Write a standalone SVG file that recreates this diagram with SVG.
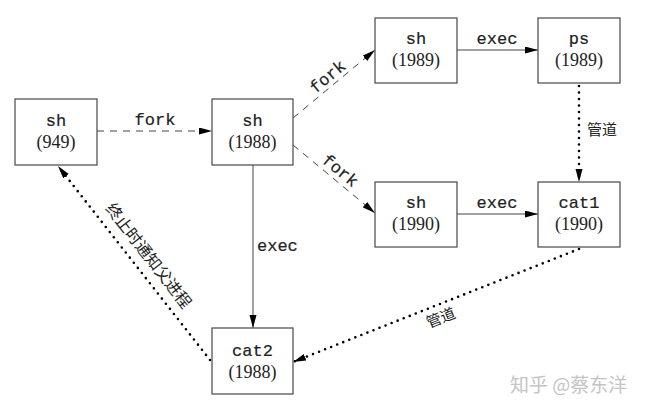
<svg xmlns="http://www.w3.org/2000/svg" width="649" height="413" viewBox="0 0 649 413">
<defs>
<marker id="ah" markerUnits="userSpaceOnUse" markerWidth="14" markerHeight="8" refX="13" refY="3.5" orient="auto">
<path d="M0,0 L13,3.5 L0,7 z" fill="#000"/>
</marker>
<style>
.box{fill:#fff;stroke:#555;stroke-width:1.3}
.mono{font-family:"Liberation Mono","DejaVu Sans Mono",monospace;font-size:17px;fill:#222;stroke:#222;stroke-width:0.2}
.yr{font-family:"Liberation Serif","DejaVu Serif",serif;font-size:18px;fill:#222}
.cjk{font-family:"Noto Sans CJK SC","Noto Sans",sans-serif;font-size:15px;fill:#222}
.dash{fill:none;stroke:#444;stroke-width:1;stroke-dasharray:7 6}
.solid{fill:none;stroke:#444;stroke-width:1}
.dot{fill:none;stroke:#000;stroke-width:2.6;stroke-linecap:round;stroke-dasharray:0 6.5}
</style>
</defs>
<rect width="649" height="413" fill="#fff"/>
<g id="connectors">
<line class="dash" x1="97" y1="131" x2="212" y2="131" marker-end="url(#ah)"/>
<line class="dash" x1="293" y1="118" x2="375" y2="50" marker-end="url(#ah)"/>
<line class="dash" x1="293" y1="145" x2="375" y2="213" marker-end="url(#ah)"/>
<line class="solid" x1="457" y1="50" x2="538" y2="50" marker-end="url(#ah)"/>
<line class="solid" x1="457" y1="214" x2="538" y2="214" marker-end="url(#ah)"/>
<line class="solid" x1="253" y1="165" x2="253" y2="328" marker-end="url(#ah)"/>
<line class="dot" x1="579" y1="86" x2="579" y2="182" marker-end="url(#ah)"/>
<line class="dot" x1="579" y1="249" x2="293" y2="362" marker-end="url(#ah)"/>
<line class="dot" x1="210" y1="360" x2="58" y2="166" marker-end="url(#ah)"/>
<text class="mono" x="155" y="125" text-anchor="middle">fork</text>
<text class="mono" transform="translate(328,77) rotate(-39.7)" y="5" text-anchor="middle">fork</text>
<text class="mono" transform="translate(340,171) rotate(39.7)" y="5" text-anchor="middle">fork</text>
<text class="mono" x="497" y="44" text-anchor="middle">exec</text>
<text class="mono" x="497" y="208" text-anchor="middle">exec</text>
<text class="mono" x="257" y="251">exec</text>
<text class="cjk" x="587" y="135">管道</text>
<text class="cjk" transform="translate(441,318) rotate(-21.9)" y="5" text-anchor="middle">管道</text>
<text class="cjk" transform="translate(148,256) rotate(52)" y="5" text-anchor="middle" style="font-size:16px">终止时通知父进程</text>
</g>
<g id="sh949">
<rect class="box" x="15" y="99" width="82" height="66"/>
<text class="mono" x="56" y="126" text-anchor="middle">sh</text>
<text class="yr" x="56" y="148" text-anchor="middle">(949)</text>
</g>
<g id="sh1988">
<rect class="box" x="212" y="99" width="81" height="66"/>
<text class="mono" x="252.5" y="126" text-anchor="middle">sh</text>
<text class="yr" x="252.5" y="148" text-anchor="middle">(1988)</text>
</g>
<g id="sh1989">
<rect class="box" x="375" y="18" width="82" height="65"/>
<text class="mono" x="416" y="44" text-anchor="middle">sh</text>
<text class="yr" x="416" y="66" text-anchor="middle">(1989)</text>
</g>
<g id="ps1989">
<rect class="box" x="538" y="18" width="82" height="65"/>
<text class="mono" x="579" y="44" text-anchor="middle">ps</text>
<text class="yr" x="579" y="66" text-anchor="middle">(1989)</text>
</g>
<g id="sh1990">
<rect class="box" x="375" y="182" width="82" height="65"/>
<text class="mono" x="416" y="208" text-anchor="middle">sh</text>
<text class="yr" x="416" y="230" text-anchor="middle">(1990)</text>
</g>
<g id="cat1990">
<rect class="box" x="538" y="182" width="82" height="65"/>
<text class="mono" x="579" y="208" text-anchor="middle">cat1</text>
<text class="yr" x="579" y="230" text-anchor="middle">(1990)</text>
</g>
<g id="cat2">
<rect class="box" x="212" y="328" width="81" height="66"/>
<text class="mono" x="252.5" y="356" text-anchor="middle">cat2</text>
<text class="yr" x="252.5" y="378" text-anchor="middle">(1988)</text>
</g>
<text x="510" y="392" style="font-family:'Noto Sans CJK SC',sans-serif;font-size:19px;fill:#c4c4c4">知乎 @蔡东洋</text>
</svg>
